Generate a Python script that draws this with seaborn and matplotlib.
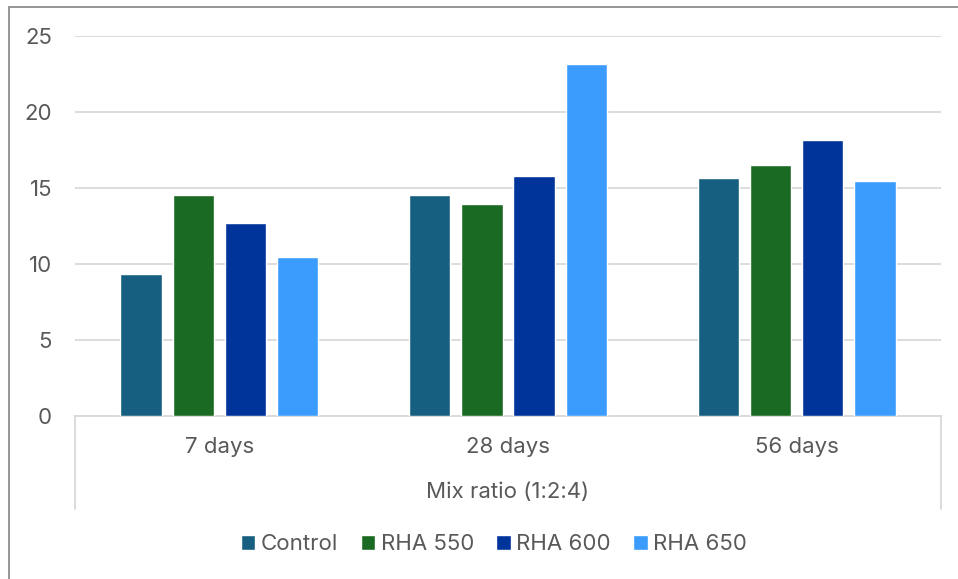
import matplotlib
matplotlib.use("Agg")
import matplotlib.pyplot as plt
from matplotlib.lines import Line2D
import seaborn as sns
import pandas as pd

# Compressive strength by curing age, mix ratio 1:2:4
ages = ["7 days", "28 days", "56 days"]
series = ["Control", "RHA 550", "RHA 600", "RHA 650"]
control = [9.34, 14.52, 15.68]
rha_550 = [14.54, 13.95, 16.53]
rha_600 = [12.70, 15.79, 18.16]
rha_650 = [10.46, 23.16, 15.46]
y_ticks = [0, 5, 10, 15, 20, 25]
axis_title = "Mix ratio (1:2:4)"

colors = ["#175f80", "#1b6a24", "#00349a", "#3c9cfd"]
text_color = "#595959"
line_color = "#d9d9d9"
fs = 16

values = [control, rha_550, rha_600, rha_650]
df = pd.DataFrame(
    [(age, name, v) for name, vals in zip(series, values) for age, v in zip(ages, vals)],
    columns=["age", "series", "value"],
)

sns.set_theme(style="white")
plt.rcParams["font.family"] = ["Inter", "DejaVu Sans"]
plt.rcParams["font.size"] = fs

fig = plt.figure(figsize=(9.58, 5.79), dpi=100)
W, H = 958, 579
ax_left, ax_right, ax_top, ax_bottom = 75, 941, 36, 416
ax = fig.add_axes([ax_left / W, 1 - ax_bottom / H,
                   (ax_right - ax_left) / W, (ax_bottom - ax_top) / H])

sns.barplot(data=df, x="age", y="value", hue="series", order=ages,
            hue_order=series, palette=colors, width=0.725, gap=0.21,
            saturation=1, legend=True, ax=ax, zorder=3)

ax.set_ylim(0, 25)
ax.set_xlim(-0.5, 2.5)
ax.set_yticks(y_ticks)
ax.set_yticklabels([str(t) for t in y_ticks], color=text_color, fontsize=fs)
ax.yaxis.grid(True, color=line_color, linewidth=1.3)
ax.set_axisbelow(True)
ax.tick_params(axis="y", length=0, pad=16.5)
ax.tick_params(axis="x", length=0, pad=15, labelcolor=text_color, labelsize=fs)
ax.set_xlabel("")
ax.set_ylabel("")
for side in ["top", "right", "left"]:
    ax.spines[side].set_visible(False)
ax.spines["bottom"].set_color(line_color)
ax.spines["bottom"].set_linewidth(1.3)

# Outer vertical dividers of the category axis
span = ax_bottom - ax_top
low = -(509 - ax_bottom) / span
for xa in (0, 1):
    ax.add_line(Line2D([xa, xa], [0, low], transform=ax.transAxes,
                       color=line_color, linewidth=1.3, clip_on=False))
ax.text(0.5, -(492 - ax_bottom) / span, axis_title, transform=ax.transAxes,
        ha="center", va="center", color=text_color, fontsize=fs)

# Legend below the chart
handles, labels = ax.get_legend_handles_labels()
ax.get_legend().remove()
leg = fig.legend(handles, labels, loc="center", ncol=4,
                 bbox_to_anchor=(494 / W, 1 - 544 / H), frameon=False,
                 handlelength=0.65, handleheight=0.65, handletextpad=0.25,
                 columnspacing=1.0, fontsize=fs)
for t in leg.get_texts():
    t.set_color(text_color)

# Chart frame edges
fig.add_artist(Line2D([9 / W, 9 / W], [1 - 7 / H, 0], transform=fig.transFigure,
                      color="#8c8c8c", linewidth=1.3))
fig.add_artist(Line2D([9 / W, 1], [1 - 7 / H, 1 - 7 / H], transform=fig.transFigure,
                      color="#8c8c8c", linewidth=1.3))

fig.savefig("out.png", dpi=100)
